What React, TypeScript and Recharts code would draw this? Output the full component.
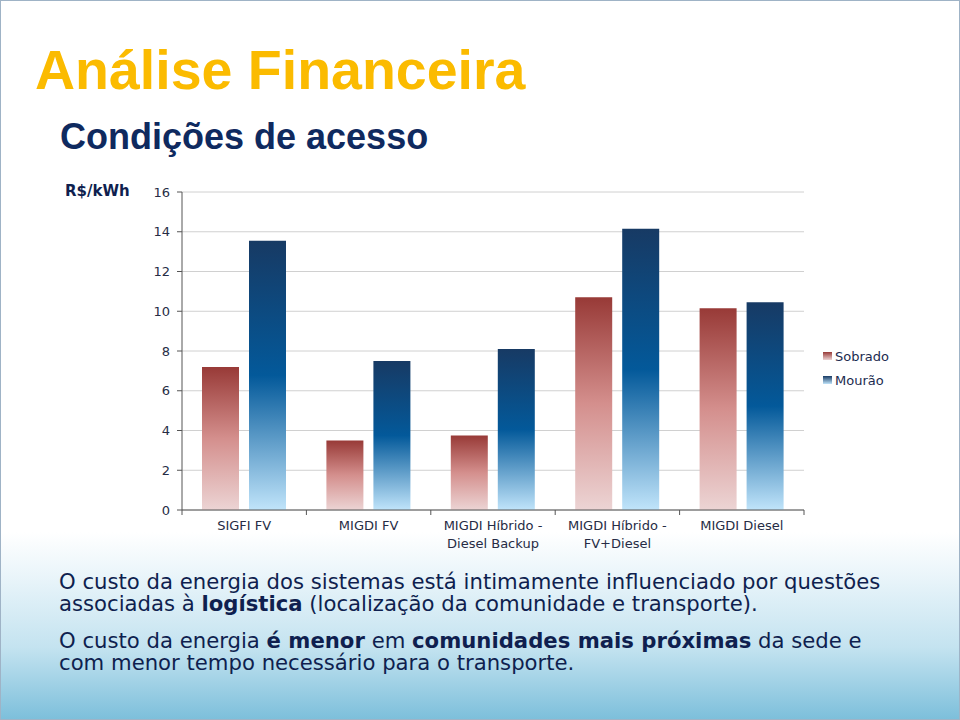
import { BarChart, Bar, XAxis, YAxis, CartesianGrid, Legend } from "recharts";

const categories = [
  "SIGFI FV",
  "MIGDI FV",
  "MIGDI Híbrido - Diesel Backup",
  "MIGDI Híbrido - FV+Diesel",
  "MIGDI Diesel",
];
const sobrado = [7.2, 3.5, 3.75, 10.7, 10.15];
const mourao = [13.55, 7.5, 8.1, 14.15, 10.45];
const yTicks = [0, 2, 4, 6, 8, 10, 12, 14, 16];

const data = categories.map((name, i) => ({
  name,
  Sobrado: sobrado[i],
  Mourão: mourao[i],
}));

const CHART_W = 960;
const CHART_H = 400;
const MARGIN = { top: 21, right: 157, bottom: 11, left: 121 };
const Y_AXIS_W = 60;
const BAND = (CHART_W - MARGIN.left - MARGIN.right - Y_AXIS_W) / categories.length;

const labelFont = "'DejaVu Sans', Verdana, sans-serif";
const navy = "#0f1f4f";

const sobradoStops = ["#983a37", "#d48f8d", "#ecd4d4"];
const mouraoStops = ["#173a64", "#03599a", "#c0e4fa"];

function CategoryTick(props: any) {
  const { x, y, payload, index } = props;
  const text: string = payload.value;
  const lines = text.includes(" - ")
    ? [text.split(" - ")[0] + " -", text.split(" - ")[1]]
    : [text];
  const axisY = y - 2;
  return (
    <g>
      <line x1={x - BAND / 2} x2={x - BAND / 2} y1={axisY} y2={axisY + 5} stroke="#555" />
      {index === categories.length - 1 && (
        <line x1={x + BAND / 2} x2={x + BAND / 2} y1={axisY} y2={axisY + 5} stroke="#555" />
      )}
      <text x={x} y={axisY + 20} textAnchor="middle" fontSize={13} fill="#262c45" fontFamily={labelFont}>
        {lines.map((l, i) => (
          <tspan key={i} x={x} dy={i === 0 ? 0 : 18}>
            {l}
          </tspan>
        ))}
      </text>
    </g>
  );
}

function LegendContent() {
  const items = [
    { name: "Sobrado", stops: sobradoStops },
    { name: "Mourão", stops: mouraoStops },
  ];
  return (
    <div style={{ fontFamily: labelFont, fontSize: 13, color: "#1c2b50" }}>
      {items.map((it) => (
        <div key={it.name} style={{ display: "flex", alignItems: "center", height: 24 }}>
          <span
            style={{
              display: "inline-block",
              width: 9,
              height: 8,
              marginRight: 3,
              background: `linear-gradient(to bottom, ${it.stops[0]}, ${it.stops[2]})`,
            }}
          />
          {it.name}
        </div>
      ))}
    </div>
  );
}

export default function App() {
  return (
    <div
      style={{
        position: "absolute",
        left: 0,
        top: 0,
        width: 958,
        height: 718,
        border: "1px solid #9fb3c6",
        background:
          "linear-gradient(to bottom, #ffffff 0%, #ffffff 74%, #eaf5fa 80%, #c4e3f0 90%, #7dbfdb 100%)",
        overflow: "hidden",
      }}
    >
      <div
        style={{
          position: "absolute",
          left: 34,
          top: 36,
          fontFamily: "'Liberation Sans', Arial, sans-serif",
          fontWeight: "bold",
          fontSize: 55.5,
          color: "#fbbb00",
          lineHeight: 1.2,
        }}
      >
        Análise Financeira
      </div>
      <div
        style={{
          position: "absolute",
          left: 59,
          top: 114,
          fontFamily: "'Liberation Sans', Arial, sans-serif",
          fontWeight: "bold",
          fontSize: 36,
          color: "#0f2a5f",
          lineHeight: 1.2,
        }}
      >
        Condições de acesso
      </div>
      <div
        style={{
          position: "absolute",
          left: 64,
          top: 181,
          fontFamily: labelFont,
          fontWeight: "bold",
          fontSize: 15,
          color: navy,
        }}
      >
        R$/kWh
      </div>

      <div style={{ position: "absolute", left: 0, top: 170 }}>
        <BarChart width={CHART_W} height={CHART_H} data={data} margin={MARGIN} barGap={10} barSize={37}>
          <defs>
            <linearGradient id="gSobrado" x1="0" y1="0" x2="0" y2="1">
              <stop offset="0%" stopColor={sobradoStops[0]} />
              <stop offset="50%" stopColor={sobradoStops[1]} />
              <stop offset="100%" stopColor={sobradoStops[2]} />
            </linearGradient>
            <linearGradient id="gMourao" x1="0" y1="0" x2="0" y2="1">
              <stop offset="0%" stopColor={mouraoStops[0]} />
              <stop offset="50%" stopColor={mouraoStops[1]} />
              <stop offset="100%" stopColor={mouraoStops[2]} />
            </linearGradient>
          </defs>
          <CartesianGrid vertical={false} stroke="#d0d0d0" />
          <XAxis
            dataKey="name"
            height={50}
            interval={0}
            tickLine={false}
            tickSize={0}
            tickMargin={2}
            axisLine={{ stroke: "#555" }}
            tick={<CategoryTick />}
          />
          <YAxis
            width={Y_AXIS_W}
            domain={[0, 16]}
            ticks={yTicks}
            interval={0}
            axisLine={{ stroke: "#555" }}
            tickLine={{ stroke: "#555" }}
            tickSize={5}
            tickMargin={7}
            tick={{ fontSize: 13, fill: "#262c45", fontFamily: labelFont }}
          />
          <Legend
            layout="vertical"
            align="center"
            verticalAlign="middle"
            content={<LegendContent />}
            wrapperStyle={{ left: 822, top: 173, width: 110 }}
          />
          <Bar dataKey="Sobrado" fill="url(#gSobrado)" isAnimationActive={false} />
          <Bar dataKey="Mourão" fill="url(#gMourao)" isAnimationActive={false} />
        </BarChart>
      </div>

      <div
        style={{
          position: "absolute",
          left: 58,
          top: 570,
          width: 900,
          fontFamily: labelFont,
          fontSize: 21.2,
          lineHeight: "22px",
          color: navy,
          whiteSpace: "nowrap",
        }}
      >
        <div>
          O custo da energia dos sistemas está intimamente influenciado por questões
          <br />
          associadas à <b>logística</b> (localização da comunidade e transporte).
        </div>
        <div style={{ marginTop: 15 }}>
          O custo da energia <b>é menor</b> em <b>comunidades mais próximas</b> da sede e
          <br />
          com menor tempo necessário para o transporte.
        </div>
      </div>
    </div>
  );
}
